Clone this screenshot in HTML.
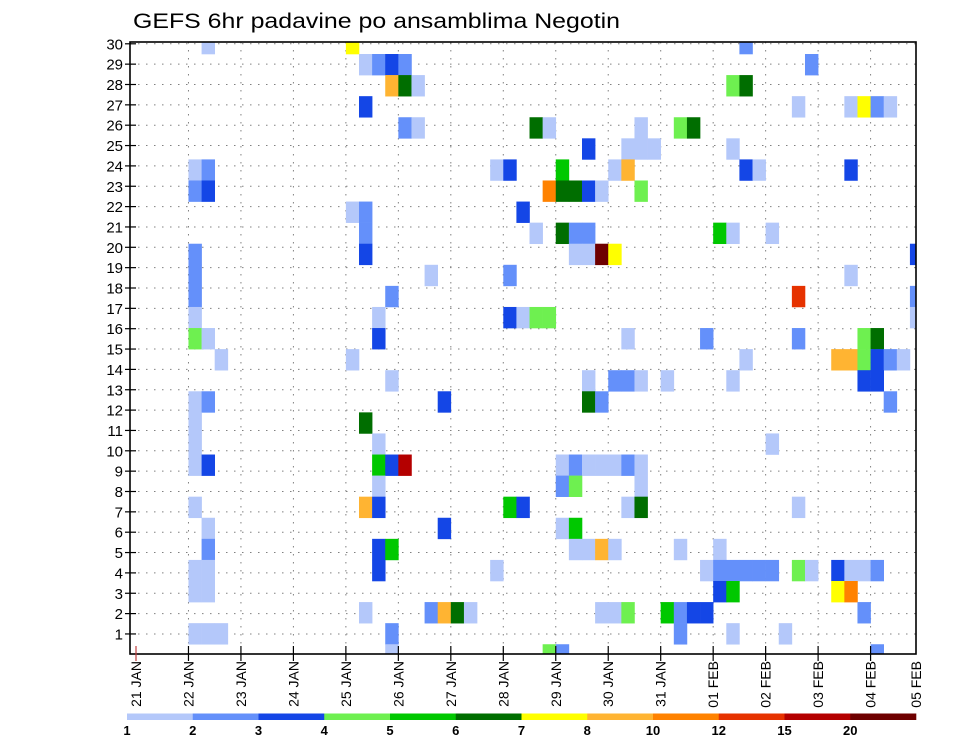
<!DOCTYPE html>
<html><head><meta charset="utf-8"><style>
html,body{margin:0;padding:0;background:#fff;}
svg{display:block;font-family:"Liberation Sans",sans-serif;}
</style></head><body>
<svg id="chart" width="960" height="742" viewBox="0 0 960 742" xmlns="http://www.w3.org/2000/svg">
<defs><clipPath id="plotclip"><rect x="130" y="42" width="786" height="612"/></clipPath></defs>
<text x="133" y="28" font-size="21" textLength="487" lengthAdjust="spacingAndGlyphs" fill="#000">GEFS 6hr padavine po ansamblima Negotin</text>
<g id="grid"></g>
<g id="cells" clip-path="url(#plotclip)"></g>
<rect x="130" y="42" width="786" height="612" fill="none" stroke="#000" stroke-width="1.6"/>
<g id="axes"></g>
<g id="colorbar"></g>
</svg>
<script>
// time step index (6-hourly from 21 JAN 00z), ensemble member, precipitation value (mm)
const times = [
5,16,46,
17,18,19,20,51,
19,20,21,45,46,
17,50,54,55,56,57,
20,21,30,31,38,41,42,
34,37,38,39,45,
4,5,27,28,32,36,37,46,47,54,
4,5,31,32,33,34,35,38,
16,17,29,
17,30,32,33,34,44,45,48,
4,17,33,34,35,36,59,
4,22,28,54,
4,19,50,59,
4,18,28,29,30,31,59,
4,5,18,37,43,50,55,56,
6,16,46,53,54,55,56,57,58,
19,34,36,37,38,40,45,55,56,
4,5,23,34,35,57,
4,17,
4,18,48,
4,5,18,19,20,32,33,34,35,36,37,38,
18,32,33,38,
4,17,18,28,29,37,38,50,
5,23,32,33,
5,18,19,33,34,35,36,41,44,
4,5,18,27,43,44,45,46,47,48,50,51,53,54,55,56,
4,5,44,45,53,54,
17,22,23,24,25,35,36,37,40,41,42,43,55,
4,5,6,19,41,45,49,
19,31,32,56
];
const members = [
30,30,30,
29,29,29,29,29,
28,28,28,28,28,
27,27,27,27,27,27,
26,26,26,26,26,26,26,
25,25,25,25,25,
24,24,24,24,24,24,24,24,24,24,
23,23,23,23,23,23,23,23,
22,22,22,
21,21,21,21,21,21,21,21,
20,20,20,20,20,20,20,
19,19,19,19,
18,18,18,18,
17,17,17,17,17,17,17,
16,16,16,16,16,16,16,16,
15,15,15,15,15,15,15,15,15,
14,14,14,14,14,14,14,14,14,
13,13,13,13,13,13,
12,12,
11,11,11,
10,10,10,10,10,10,10,10,10,10,10,10,
9,9,9,9,
8,8,8,8,8,8,8,8,
7,7,7,7,
6,6,6,6,6,6,6,6,6,
5,5,5,5,5,5,5,5,5,5,5,5,5,5,5,5,
4,4,4,4,4,4,
3,3,3,3,3,3,3,3,3,3,3,3,3,
2,2,2,2,2,2,2,
1,1,1,1
];
const values = [
1.5,7.5,2.5,
1.5,2.5,3.5,2.5,2.5,
9,6.5,1.5,4.5,6.5,
3.5,1.5,1.5,7.5,2.5,1.5,
2.5,1.5,6.5,1.5,1.5,4.5,6.5,
3.5,1.5,1.5,1.5,1.5,
1.5,2.5,1.5,3.5,5.5,1.5,9,3.5,1.5,3.5,
2.5,3.5,11,6.5,6.5,3.5,1.5,4.5,
1.5,2.5,3.5,
2.5,1.5,6.5,2.5,2.5,5.5,1.5,1.5,
2.5,3.5,1.5,1.5,25,7.5,3.5,
2.5,1.5,2.5,1.5,
2.5,2.5,13.5,2.5,
1.5,1.5,3.5,1.5,4.5,4.5,1.5,
4.5,1.5,3.5,1.5,2.5,2.5,4.5,6.5,
1.5,1.5,1.5,9,9,4.5,3.5,2.5,1.5,
1.5,1.5,2.5,2.5,1.5,1.5,1.5,3.5,3.5,
1.5,2.5,3.5,6.5,2.5,2.5,
1.5,6.5,
1.5,1.5,1.5,
1.5,3.5,5.5,3.5,17,1.5,2.5,1.5,1.5,1.5,2.5,1.5,
1.5,2.5,4.5,1.5,
1.5,9,3.5,5.5,3.5,1.5,6.5,1.5,
1.5,3.5,1.5,5.5,
2.5,3.5,5.5,1.5,1.5,9,1.5,1.5,1.5,
1.5,1.5,3.5,1.5,1.5,2.5,2.5,2.5,2.5,2.5,4.5,1.5,3.5,1.5,1.5,2.5,
1.5,1.5,3.5,5.5,7.5,11,
1.5,2.5,9,6.5,1.5,1.5,1.5,4.5,5.5,2.5,3.5,3.5,2.5,
1.5,1.5,1.5,2.5,2.5,1.5,1.5,
1.5,4.5,2.5,2.5
];
const colorBounds = [1,2,3,4,5,6,7,8,10,12,15,20];
const colorBoundLabels = ["1","2","3","4","5","6","7","8","10","12","15","20"];
const colorList = ["#b4c8fa","#6490fa","#1446e6","#6ef050","#00c800","#006e00","#ffff00","#ffb432","#ff8200","#e63200","#b40000","#6e0000"];
const xTickLabels = ["21 JAN","22 JAN","23 JAN","24 JAN","25 JAN","26 JAN","27 JAN","28 JAN","29 JAN","30 JAN","31 JAN","01 FEB","02 FEB","03 FEB","04 FEB","05 FEB"];
const yTickLabels = [1,2,3,4,5,6,7,8,9,10,11,12,13,14,15,16,17,18,19,20,21,22,23,24,25,26,27,28,29,30];

const NS = "http://www.w3.org/2000/svg";
const X0 = 136, DAY = 52.47, STEP = DAY/4;
const PL = 130, PR = 916, PT = 42, PB = 654;
function xStep(i){ return X0 + i*STEP; }
function xDay(d){ return X0 + d*DAY; }
function yCellTop(m){ return 54 + (30 - m - 1)*21.08; }
const CELL_H = 21.08;
function yLine(r){ return 654.3 - r*20.35; }
function colorFor(v){ let j=0; for(let k=0;k<colorBounds.length;k++){ if(v>=colorBounds[k]) j=k; } return colorList[j]; }
function mk(tag, attrs, parent){ const e=document.createElementNS(NS,tag); for(const k in attrs) e.setAttribute(k, attrs[k]); parent.appendChild(e); return e; }

// grid
const grid = document.getElementById('grid');
for (let r=1;r<=30;r++){
  const l = mk('line',{x1:PL,x2:PR,y1:yLine(r),y2:yLine(r),stroke:'#808080','stroke-width':1,'stroke-dasharray':'1.5 6.5'},grid);
  
  
}
for (let d=1; d<15; d++){
  const l = mk('line',{x1:xDay(d),x2:xDay(d),y1:PT,y2:PB,stroke:'#808080','stroke-width':1,'stroke-dasharray':'1.5 6.5'},grid);
  
  
}

// cells
const cells = document.getElementById('cells');
for (let n=0;n<values.length;n++){
  const c = mk('rect',{x:xStep(times[n]),y:yCellTop(members[n]),width:STEP+0.3,height:CELL_H+0.3,fill:colorFor(values[n])},cells);
  
  
}

// axes
const axes = document.getElementById('axes');
for (let k=0;k<yTickLabels.length;k++){
  const r = yTickLabels[k];
  const y = yLine(r);
  mk('line',{x1:125,x2:136,y1:y,y2:y,stroke:'#000','stroke-width':1.2},axes);
  const t = mk('text',{x:123,y:y+5.5,'font-size':15,'text-anchor':'end',fill:'#000'},axes);
  t.textContent = r;
  
  
}
for (let d=0; d<xTickLabels.length; d++){
  const x = d<15 ? xDay(d) : PR;
  if (d<15) mk('line',{x1:x,x2:x,y1:646,y2:661,stroke:d===0?'#c04040':'#000','stroke-width':1.2},axes);
  const t = mk('text',{x:0,y:0,'font-size':14,'text-anchor':'end',fill:'#000',transform:'translate('+(x+5)+',661) rotate(-90)'},axes);
  t.textContent = xTickLabels[d];
  
  
}

// colorbar
const cb = document.getElementById('colorbar');
const CB0 = 127, CBW = (916-127)/colorList.length;
for (let k=0;k<colorList.length;k++){
  const r = mk('rect',{x:CB0+k*CBW,y:713.5,width:CBW+0.3,height:6.5,fill:colorList[k]},cb);
  
  
  const t = mk('text',{x:CB0+k*CBW,y:735,'font-size':13,'font-weight':'bold','text-anchor':'middle',fill:'#000'},cb);
  t.textContent = colorBoundLabels[k];
  
  
}
</script>
</body></html>
